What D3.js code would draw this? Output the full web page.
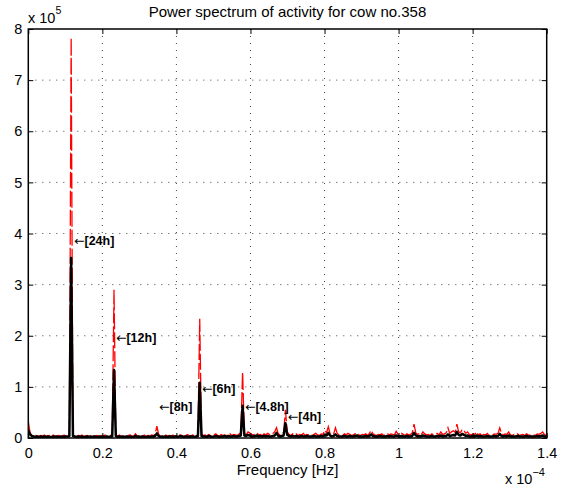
<!DOCTYPE html>
<html>
<head>
<meta charset="utf-8">
<script src="https://cdn.jsdelivr.net/npm/d3@7"></script>
<style>
  body { margin: 0; background: #fff; }
  svg text { font-family: "Liberation Sans", Arial, Helvetica, sans-serif; }
</style>
</head>
<body>
<svg id="chart" width="573" height="488"></svg>
<script>
// spectrum bins: 24 bins per cycle/day (record of 24 days), power in units of 1e5
var recordDays = 24;

// raw spectrum (red, dashed)
var powerRaw = [
  0.32,0.10,0.05,0.03,0.06,0.04, 0.03,0.05,0.04,0.06,0.03,0.04, 0.05,0.03,0.06,0.04,0.03,0.05, 0.04,0.03,0.06,0.04,0.05,0.07,
  7.83,0.06,0.04,0.03,0.05,0.04, 0.06,0.03,0.04,0.05,0.03,0.04, 0.06,0.03,0.05,0.04,0.03,0.05, 0.04,0.06,0.03,0.04,0.05,0.06,
  2.90,0.05,0.04,0.06,0.03,0.05, 0.04,0.03,0.05,0.06,0.04,0.03, 0.08,0.04,0.05,0.03,0.04,0.06, 0.03,0.05,0.04,0.06,0.05,0.07,
  0.23,0.07,0.04,0.05,0.03,0.06, 0.04,0.05,0.04,0.06,0.03,0.05, 0.04,0.06,0.05,0.03,0.04,0.07, 0.05,0.04,0.06,0.05,0.04,0.07,
  2.33,0.07,0.05,0.06,0.04,0.07, 0.05,0.04,0.06,0.08,0.05,0.04, 0.07,0.05,0.06,0.04,0.09,0.08, 0.05,0.07,0.06,0.05,0.08,0.10,
  1.29,0.09,0.06,0.12,0.10,0.07, 0.06,0.08,0.10,0.06,0.07,0.05, 0.08,0.06,0.09,0.07,0.06,0.09, 0.12,0.20,0.08,0.06,0.09,0.11,
  0.55,0.12,0.07,0.05,0.08,0.06, 0.08,0.05,0.07,0.06,0.09,0.05, 0.07,0.06,0.08,0.05,0.07,0.09, 0.06,0.05,0.08,0.07,0.15,0.10,
  0.22,0.09,0.06,0.08,0.20,0.09, 0.06,0.07,0.05,0.08,0.06,0.09, 0.07,0.05,0.06,0.08,0.10,0.06, 0.05,0.07,0.06,0.08,0.05,0.09,
  0.15,0.08,0.06,0.05,0.07,0.06, 0.08,0.05,0.07,0.09,0.06,0.08, 0.07,0.06,0.13,0.08,0.06,0.09, 0.07,0.05,0.08,0.06,0.07,0.10,
  0.27,0.10,0.07,0.09,0.06,0.12, 0.08,0.06,0.07,0.05,0.08,0.06, 0.07,0.09,0.06,0.12,0.07,0.08, 0.10,0.20,0.09,0.12,0.14,0.11,
  0.27,0.12,0.10,0.17,0.14,0.09, 0.12,0.07,0.06,0.08,0.07,0.12, 0.06,0.08,0.05,0.07,0.06,0.09, 0.05,0.07,0.06,0.08,0.07,0.09,
  0.20,0.09,0.06,0.08,0.07,0.12, 0.06,0.05,0.07,0.06,0.08,0.05, 0.06,0.07,0.05,0.08,0.06,0.05, 0.07,0.06,0.05,0.08,0.07,0.09,
  0.12,0.07,0.05
];

// smoothed spectrum (black, solid)
var powerSmooth = [
  0.15,0.07,0.04,0.03,0.02,0.03, 0.02,0.03,0.02,0.03,0.02,0.03, 0.02,0.02,0.03,0.02,0.03,0.02, 0.02,0.03,0.02,0.03,0.03,0.04,
  3.52,0.04,0.03,0.02,0.03,0.02, 0.03,0.02,0.02,0.03,0.02,0.03, 0.02,0.03,0.02,0.02,0.03,0.02, 0.03,0.02,0.03,0.02,0.03,0.03,
  1.33,0.04,0.02,0.03,0.02,0.03, 0.02,0.03,0.02,0.03,0.02,0.02, 0.04,0.02,0.03,0.02,0.03,0.02, 0.02,0.03,0.02,0.03,0.03,0.04,
  0.09,0.04,0.02,0.03,0.02,0.03, 0.02,0.03,0.03,0.02,0.03,0.03, 0.02,0.04,0.03,0.02,0.03,0.03, 0.02,0.03,0.03,0.02,0.03,0.04,
  1.08,0.04,0.03,0.03,0.02,0.04, 0.03,0.02,0.03,0.04,0.03,0.02, 0.03,0.03,0.04,0.02,0.04,0.03, 0.03,0.04,0.03,0.03,0.04,0.05,
  0.63,0.05,0.04,0.06,0.05,0.03, 0.03,0.04,0.05,0.03,0.04,0.03, 0.04,0.03,0.04,0.03,0.03,0.04, 0.05,0.10,0.04,0.03,0.04,0.05,
  0.29,0.06,0.04,0.03,0.04,0.03, 0.04,0.03,0.03,0.04,0.03,0.03, 0.04,0.03,0.03,0.03,0.04,0.03, 0.03,0.03,0.04,0.03,0.06,0.05,
  0.10,0.05,0.03,0.04,0.07,0.04, 0.03,0.03,0.03,0.04,0.03,0.03, 0.04,0.03,0.03,0.04,0.05,0.03, 0.03,0.03,0.03,0.04,0.03,0.04,
  0.07,0.04,0.03,0.03,0.03,0.04, 0.03,0.03,0.03,0.04,0.03,0.04, 0.03,0.03,0.05,0.04,0.03,0.04, 0.03,0.03,0.04,0.03,0.03,0.04,
  0.10,0.05,0.03,0.04,0.03,0.05, 0.04,0.03,0.03,0.03,0.04,0.03, 0.03,0.04,0.03,0.05,0.03,0.04, 0.04,0.07,0.04,0.05,0.06,0.05,
  0.12,0.06,0.05,0.08,0.06,0.04, 0.05,0.03,0.03,0.04,0.03,0.05, 0.03,0.04,0.03,0.03,0.03,0.04, 0.03,0.03,0.03,0.04,0.03,0.04,
  0.08,0.04,0.03,0.04,0.03,0.05, 0.03,0.03,0.03,0.03,0.04,0.03, 0.03,0.03,0.03,0.04,0.03,0.03, 0.03,0.03,0.03,0.04,0.03,0.04,
  0.05,0.03,0.03
];

var labelText = ["[24h]", "[12h]", "[8h]", "[6h]", "[4.8h]", "[4h]"];
var labelFreq = [1.234e-5, 2.368e-5, 3.53e-5, 4.69e-5, 5.85e-5, 7.01e-5];
var labelPower = [3.87, 1.96, 0.61, 0.96, 0.61, 0.41];

var xTicks = [0, 0.2e-4, 0.4e-4, 0.6e-4, 0.8e-4, 1.0e-4, 1.2e-4, 1.4e-4];
var xTickLabels = ["0", "0.2", "0.4", "0.6", "0.8", "1", "1.2", "1.4"];
var yTicks = [0, 1, 2, 3, 4, 5, 6, 7, 8];

var width = 573;
var height = 488;
var plotLeft = 28.3, plotRight = 546.7, plotTop = 29, plotBottom = 438;

var svg = d3.select("#chart");

var x = d3.scaleLinear().domain([0, 1.4e-4]).range([plotLeft, plotRight]);
var y = d3.scaleLinear().domain([0, 8]).range([plotBottom, plotTop]);

var binHz = 1 / (recordDays * 86400);
var rawPts = powerRaw.map((v, i) => [i * binHz, v]);
var smoothPts = powerSmooth.map((v, i) => [i * binHz, v]);

// grid
var grid = svg.append("g");
grid.selectAll(".gx")
  .data(xTicks.slice(1, -1))
  .enter().append("line")
  .attr("x1", d => x(d)).attr("x2", d => x(d))
  .attr("y1", plotTop).attr("y2", plotBottom)
  .attr("stroke", "#444").attr("stroke-width", 1)
  .attr("stroke-dasharray", "1,6");
grid.selectAll(".gy")
  .data(yTicks.slice(1, -1))
  .enter().append("line")
  .attr("x1", plotLeft).attr("x2", plotRight)
  .attr("y1", d => y(d)).attr("y2", d => y(d))
  .attr("stroke", "#444").attr("stroke-width", 1)
  .attr("stroke-dasharray", "1,6");

var line = d3.line().x(d => x(d[0])).y(d => y(d[1]));

svg.append("clipPath").attr("id", "plotclip")
  .append("rect")
  .attr("x", plotLeft).attr("y", plotTop - 2)
  .attr("width", plotRight - plotLeft).attr("height", plotBottom - plotTop + 2);

var plot = svg.append("g").attr("clip-path", "url(#plotclip)");

plot.append("path")
  .datum(rawPts)
  .attr("fill", "none")
  .attr("stroke", "#ff0000")
  .attr("stroke-width", 1.3)
  .attr("stroke-dasharray", "16,3")
  .attr("d", line);

plot.append("path")
  .datum(smoothPts)
  .attr("fill", "none")
  .attr("stroke", "#000")
  .attr("stroke-width", 2.5)
  .attr("stroke-linejoin", "round")
  .attr("d", line);

// axes with inward ticks
var fmt = d => xTickLabels[xTicks.indexOf(d)];

svg.append("g")
  .attr("transform", `translate(0,${plotBottom})`)
  .call(d3.axisBottom(x).tickValues(xTicks).tickFormat(fmt).tickSizeInner(-5).tickSizeOuter(0).tickPadding(10))
  .call(g => g.select(".domain").remove())
  .call(g => g.selectAll("text").style("font-size", "14.5px").attr("fill", "#000"));

svg.append("g")
  .attr("transform", `translate(0,${plotTop})`)
  .call(d3.axisTop(x).tickValues(xTicks).tickFormat("").tickSizeInner(-5).tickSizeOuter(0))
  .call(g => g.select(".domain").remove());

svg.append("g")
  .attr("transform", `translate(${plotLeft},0)`)
  .call(d3.axisLeft(y).tickValues(yTicks).tickFormat(d3.format("d")).tickSizeInner(-5).tickSizeOuter(0).tickPadding(6))
  .call(g => g.select(".domain").remove())
  .call(g => g.selectAll("text").style("font-size", "14.5px").attr("fill", "#000"));

svg.append("g")
  .attr("transform", `translate(${plotRight},0)`)
  .call(d3.axisRight(y).tickValues(yTicks).tickFormat("").tickSizeInner(-5).tickSizeOuter(0))
  .call(g => g.select(".domain").remove());

svg.selectAll(".tick line").attr("stroke", "#000");

svg.append("rect")
  .attr("x", plotLeft).attr("y", plotTop)
  .attr("width", plotRight - plotLeft).attr("height", plotBottom - plotTop)
  .attr("fill", "none").attr("stroke", "#000").attr("stroke-width", 1.5);

// peak labels
var labels = svg.append("g");
labelText.forEach((t, i) => {
  var txt = labels.append("text")
    .attr("x", x(labelFreq[i]))
    .attr("y", y(labelPower[i]))
    .attr("dy", "0.35em")
    .style("font-size", "12.5px");
  txt.append("tspan").style("font-family", "'DejaVu Sans', sans-serif").text("\u2190");
  txt.append("tspan").style("font-weight", "bold").text(t);
});

// title and axis labels
svg.append("text")
  .attr("x", (plotLeft + plotRight) / 2)
  .attr("y", 17)
  .attr("text-anchor", "middle")
  .style("font-size", "15px")
  .text("Power spectrum of activity for cow no.358");

svg.append("text")
  .attr("x", (plotLeft + plotRight) / 2)
  .attr("y", 475)
  .attr("text-anchor", "middle")
  .style("font-size", "15px")
  .text("Frequency [Hz]");

var ey = svg.append("text").attr("x", 28).attr("y", 23).style("font-size", "14.5px");
ey.append("tspan").text("x 10");
ey.append("tspan").attr("dy", -9).style("font-size", "10.5px").text("5");

var ex = svg.append("text").attr("x", 505).attr("y", 484).style("font-size", "14.5px");
ex.append("tspan").text("x 10");
ex.append("tspan").attr("dy", -8).style("font-size", "11px").text("\u22124");
</script>
</body>
</html>
